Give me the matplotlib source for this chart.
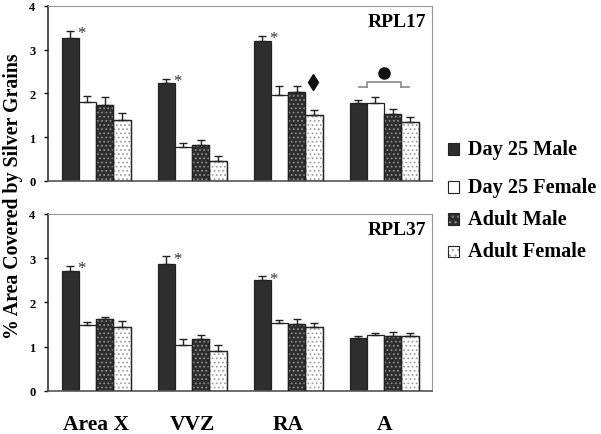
import numpy as np
import matplotlib.pyplot as plt

plt.rcParams['font.family'] = ['Liberation Serif', 'DejaVu Serif']
plt.rcParams['font.weight'] = 'bold'
plt.rcParams['hatch.linewidth'] = 0.8

regions = ['Area X', 'VVZ', 'RA', 'A']
groups = ['Day 25 Male', 'Day 25 Female', 'Adult Male', 'Adult Female']

# RPL17 (top panel)
rpl17_mean = {
    'Day 25 Male':   [3.27, 2.24, 3.19, 1.78],
    'Day 25 Female': [1.81, 0.77, 1.97, 1.78],
    'Adult Male':    [1.74, 0.83, 2.04, 1.54],
    'Adult Female':  [1.40, 0.46, 1.51, 1.34],
}
rpl17_err = {
    'Day 25 Male':   [0.16, 0.09, 0.13, 0.08],
    'Day 25 Female': [0.14, 0.09, 0.19, 0.13],
    'Adult Male':    [0.17, 0.11, 0.14, 0.11],
    'Adult Female':  [0.15, 0.10, 0.11, 0.13],
}
rpl17_star = [True, True, True, False]

# RPL37 (bottom panel)
rpl37_mean = {
    'Day 25 Male':   [2.72, 2.87, 2.50, 1.20],
    'Day 25 Female': [1.48, 1.03, 1.53, 1.27],
    'Adult Male':    [1.62, 1.18, 1.52, 1.25],
    'Adult Female':  [1.44, 0.91, 1.45, 1.23],
}
rpl37_err = {
    'Day 25 Male':   [0.11, 0.17, 0.09, 0.04],
    'Day 25 Female': [0.07, 0.15, 0.08, 0.03],
    'Adult Male':    [0.06, 0.09, 0.11, 0.08],
    'Adult Female':  [0.15, 0.12, 0.08, 0.07],
}
rpl37_star = [True, True, True, False]

DARK = '#2e2e2e'
styles = {
    'Day 25 Male':   dict(face=DARK, hatch=None, hcol=None),
    'Day 25 Female': dict(face='white', hatch=None, hcol=None),
    'Adult Male':    dict(face=DARK, hatch='....', hcol='#8c8c8c'),
    'Adult Female':  dict(face='white', hatch='....', hcol='#a0a0a0'),
}

x = np.arange(len(regions))
width = 0.18
offsets = (np.arange(4) - 1.5) * width


def draw_panel(ax, means, errs, stars, title):
    for i, g in enumerate(groups):
        st = styles[g]
        pos = x + offsets[i]
        ax.bar(pos, means[g], width, color=st['face'], edgecolor='#222222',
               linewidth=0.9, zorder=2)
        if st['hatch']:
            ax.bar(pos, means[g], width, color='none', edgecolor=st['hcol'],
                   hatch=st['hatch'], linewidth=0, zorder=3)
            ax.bar(pos, means[g], width, color='none', edgecolor='#222222',
                   linewidth=0.9, zorder=4)
        ax.errorbar(pos, means[g], yerr=[np.zeros(4), errs[g]], fmt='none',
                    ecolor='#222222', elinewidth=1.0, capsize=3, capthick=1.0,
                    zorder=5)
    for j, s in enumerate(stars):
        if s:
            top = means['Day 25 Male'][j] + errs['Day 25 Male'][j]
            ax.text(x[j] + offsets[0] + 0.115, top - 0.24, '*', fontsize=12,
                    fontweight='normal', ha='center', va='bottom',
                    color='#333333')
    ax.set_xlim(-0.5, 3.5)
    ax.set_ylim(0, 4)
    ax.set_yticks([0, 1, 2, 3, 4])
    ax.set_xticks([])
    ax.tick_params(axis='y', labelsize=9, length=3, width=1, pad=6)
    for lab in ax.get_yticklabels():
        lab.set_fontweight('bold')
    ax.spines['left'].set_color('#333333')
    ax.spines['left'].set_linewidth(1.2)
    ax.spines['bottom'].set_color('#555555')
    ax.spines['bottom'].set_linewidth(1.2)
    ax.spines['top'].set_color('#999999')
    ax.spines['right'].set_color('#999999')
    ax.text(0.985, 0.96, title, transform=ax.transAxes, ha='right', va='top',
            fontsize=14, fontweight='bold')


fig = plt.figure(figsize=(6.01, 4.35), dpi=100)
ax1 = fig.add_axes([0.080, 0.582, 0.639, 0.402])
ax2 = fig.add_axes([0.080, 0.099, 0.639, 0.407])

draw_panel(ax1, rpl17_mean, rpl17_err, rpl17_star, 'RPL17')
draw_panel(ax2, rpl37_mean, rpl37_err, rpl37_star, 'RPL37')

# diamond above RA adult male (top panel)
ax1.plot(x[2] + offsets[2] + 0.17, 2.27, marker='d', color='#111111',
         markersize=8, zorder=6)
# bracket and dot over A (top panel)
gray = '#8a8a8a'
xa = x[3]
ax1.plot([xa - 0.26, xa - 0.18], [2.14, 2.14], color=gray, lw=1.2)
ax1.plot([xa - 0.18, xa - 0.18, xa + 0.18, xa + 0.18], [2.14, 2.26, 2.26, 2.14],
         color=gray, lw=1.2)
ax1.plot([xa + 0.18, xa + 0.26], [2.14, 2.14], color=gray, lw=1.2)
ax1.plot(xa, 2.47, marker='o', color='#111111', markersize=8)

# region labels under bottom panel
for j, r in enumerate(regions):
    ax2.text(x[j], -0.75, r, ha='center', va='center', fontsize=15.5,
             fontweight='bold')

fig.text(0.022, 0.548, '% Area Covered by Silver Grains', rotation=90,
         ha='center', va='center', fontsize=14.3, fontweight='bold')

# legend
leg_y = [0.655, 0.568, 0.494, 0.420]
for g, yy in zip(groups, leg_y):
    st = styles[g]
    fig.patches.append(plt.Rectangle((0.746, yy - 0.013), 0.017, 0.026,
                                     transform=fig.transFigure,
                                     facecolor=st['face'], edgecolor='#222222',
                                     linewidth=0.8))
    if st['hatch']:
        fig.patches.append(plt.Rectangle((0.746, yy - 0.013), 0.017, 0.026,
                                         transform=fig.transFigure,
                                         facecolor='none', edgecolor=st['hcol'],
                                         linewidth=0, hatch='...'))
    fig.text(0.778, yy, g, ha='left', va='center', fontsize=14.6,
             fontweight='bold')

fig.savefig('out.png', dpi=100)
